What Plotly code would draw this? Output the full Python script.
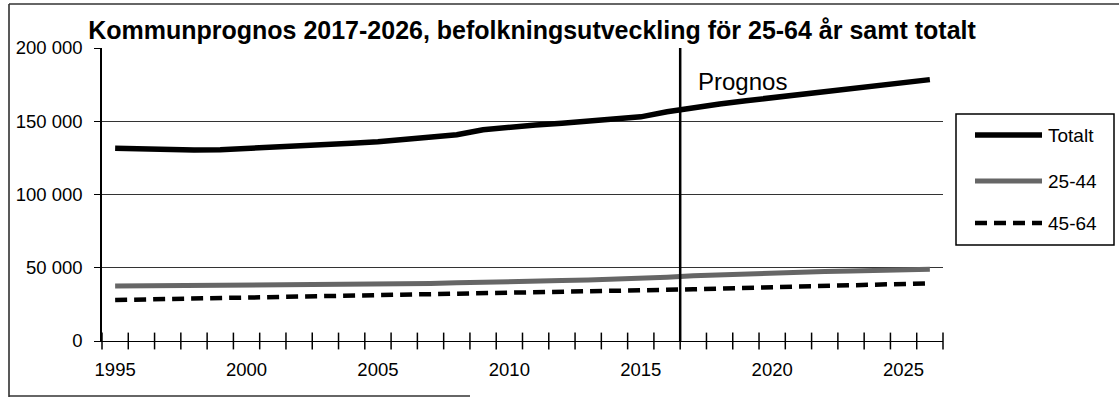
import plotly.graph_objects as go

# ---------------- data ----------------
years = [1995, 1996, 1997, 1998, 1999, 2000, 2001, 2002, 2003, 2004, 2005,
         2006, 2007, 2008, 2009, 2010, 2011, 2012, 2013, 2014, 2015, 2016,
         2017, 2018, 2019, 2020, 2021, 2022, 2023, 2024, 2025, 2026]

totalt = [131500, 131000, 130700, 130400, 130600, 131300, 132300, 133300,
          134200, 135000, 136000, 137300, 138800, 140800, 144200, 146300,
          147500, 148600, 150000, 151500, 153000, 156500, 159500, 161800,
          164000, 166100, 168200, 170300, 172400, 174400, 176400, 178400]

age_25_44 = [37500, 37600, 37600, 37700, 37900, 38100, 38300, 38500,
             38600, 38700, 38800, 39000, 39300, 39700, 40300, 40700,
             41000, 41300, 41600, 42000, 42500, 43500, 44500, 45200,
             45800, 46400, 46900, 47400, 47800, 48200, 48600, 49000]

age_45_64 = [28000, 28300, 28600, 28900, 29200, 29500, 29800, 30100,
             30400, 30700, 31000, 31300, 31600, 31900, 32200, 32500,
             32800, 33100, 33500, 33900, 34300, 34800, 35300, 35800,
             36300, 36800, 37200, 37700, 38200, 38600, 39000, 39400]

series_names = ["Totalt", "25-44", "45-64"]
y_tick_values = [0, 50000, 100000, 150000, 200000]
y_tick_labels = ["0", "50 000", "100 000", "150 000", "200 000"]
x_label_years = [1995, 2000, 2005, 2010, 2015, 2020, 2025]
prognos_start = 2017
prognos_label = "Prognos"
title_text = "Kommunprognos 2017-2026, befolkningsutveckling för 25-64 år samt totalt"

# ---------------- layout helpers ----------------
W, H = 1119, 401
L, R, T, B = 102, 176, 48, 60
PW, PH = W - L - R, H - T - B


def px(xp):
    return (xp - L) / PW


def py(yp):
    return (H - B - yp) / PH


FONT = "Liberation Sans, Arial, Helvetica, sans-serif"

styles = [
    dict(color="#000000", width=5.5),
    dict(color="#666666", width=5),
    dict(color="#000000", width=4.5, dash="12px,7px"),
]

fig = go.Figure()
for name, vals, st in zip(series_names, [totalt, age_25_44, age_45_64], styles):
    fig.add_trace(go.Scatter(x=years, y=vals, mode="lines", name=name,
                             line=st, showlegend=False, hoverinfo="skip"))

# category boundary tick marks crossing the x axis
boundaries = [y - 0.5 for y in years] + [years[-1] + 0.5]
fig.add_trace(go.Scatter(
    x=boundaries, y=[0] * len(boundaries), mode="markers",
    marker=dict(symbol="line-ns", size=12, color="black",
                line=dict(color="black", width=1.5)),
    showlegend=False, hoverinfo="skip", cliponaxis=False))

shapes = []
# prognosis divider
shapes.append(dict(type="line", xref="x", yref="paper",
                   x0=prognos_start - 0.5, x1=prognos_start - 0.5, y0=0, y1=1.0,
                   line=dict(color="black", width=2.5)))

# custom legend
shapes.append(dict(type="rect", xref="paper", yref="paper",
                   x0=px(956), x1=px(1114), y0=py(245), y1=py(114),
                   line=dict(color="black", width=1.5), fillcolor="white"))
legend_rows = [135, 181, 223]
annotations = []
for name, st, yr in zip(series_names, styles, legend_rows):
    shapes.append(dict(type="line", xref="paper", yref="paper",
                       x0=px(975), x1=px(1042), y0=py(yr), y1=py(yr),
                       line=st))
    annotations.append(dict(text=name, xref="paper", yref="paper",
                            x=px(1046), y=py(yr), xanchor="left", yanchor="middle",
                            showarrow=False, font=dict(family=FONT, size=19, color="black")))

# outer frame (scanned page border)
shapes.append(dict(type="line", xref="paper", yref="paper",
                   x0=px(9), x1=px(9), y0=py(397), y1=py(4),
                   line=dict(color="#222", width=1.5)))
shapes.append(dict(type="line", xref="paper", yref="paper",
                   x0=px(9), x1=px(1119), y0=py(4), y1=py(4),
                   line=dict(color="#333", width=1.5)))
shapes.append(dict(type="line", xref="paper", yref="paper",
                   x0=px(9), x1=px(470), y0=py(396), y1=py(396),
                   line=dict(color="#333", width=1.5)))

annotations.append(dict(text=prognos_label, xref="x", yref="paper",
                        x=prognos_start - 0.5, xshift=16, y=py(82),
                        xanchor="left", yanchor="middle", showarrow=False,
                        font=dict(family=FONT, size=24, color="black")))

fig.update_layout(
    width=W, height=H,
    margin=dict(l=L, r=R, t=T, b=B, autoexpand=False),
    paper_bgcolor="white", plot_bgcolor="white",
    font=dict(family=FONT, color="black"),
    title=dict(text="<b>" + title_text + "</b>", x=532 / W, xanchor="center",
               y=1 - 30 / H, yanchor="middle",
               font=dict(family=FONT, size=25, color="black")),
    xaxis=dict(range=[years[0] - 0.5, years[-1] + 0.5], showgrid=False,
               zeroline=False, showline=True, linecolor="black", linewidth=1.2,
               tickmode="array", tickvals=x_label_years, ticks="",
               ticklabelstandoff=12,
               tickfont=dict(family=FONT, size=18.5, color="black")),
    yaxis=dict(range=[0, 200000], tickmode="array", tickvals=y_tick_values,
               ticktext=y_tick_labels, showgrid=True, gridcolor="#333",
               gridwidth=1, zeroline=False, showline=True, linecolor="black",
               linewidth=1.5, ticks="outside", ticklen=6, tickwidth=1.2,
               tickcolor="black", ticklabelstandoff=8,
               tickfont=dict(family=FONT, size=18.5, color="black")),
    shapes=shapes, annotations=annotations, showlegend=False,
)

fig.write_html("out.html", config={"displayModeBar": False},
               post_script="document.body.style.margin='0px';document.body.style.padding='0px';")
